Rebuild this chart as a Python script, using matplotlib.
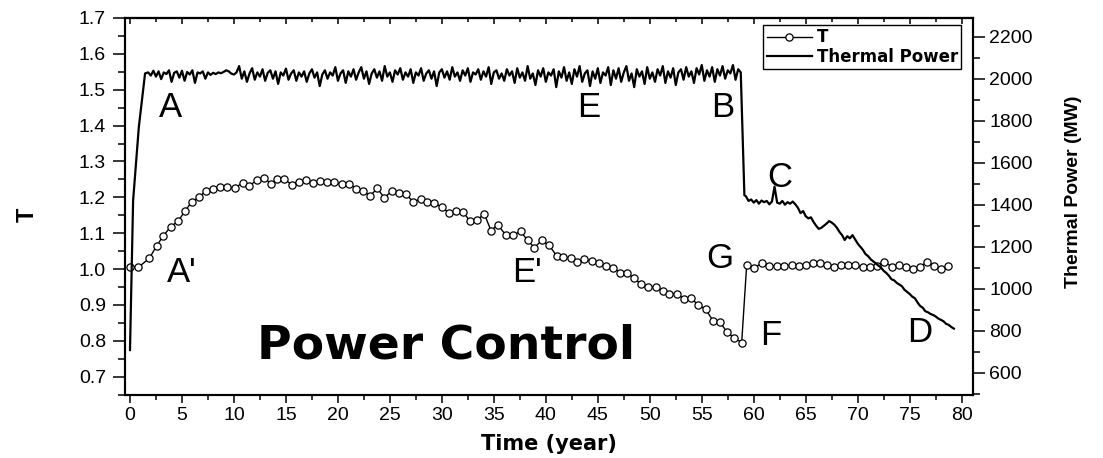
import numpy as np
import matplotlib
matplotlib.use('Agg')
import matplotlib.pyplot as plt
from matplotlib.ticker import MultipleLocator, FormatStrFormatter

plt.rcParams['font.family'] = ['Liberation Sans', 'DejaVu Sans']

# ---------------- data: T (circles, left axis) ----------------
t_time = [0.0, 0.80, 1.86, 2.57, 3.21, 3.91, 4.65, 5.29, 5.93, 6.67, 7.31, 8.02, 8.66, 9.36,
          10.10, 10.84, 11.48, 12.18, 12.89, 13.56, 14.17, 14.85, 15.55, 16.26, 16.93, 17.64,
          18.28, 18.98, 19.65, 20.36, 21.07, 21.74, 22.44, 23.09, 23.79, 24.46, 25.17, 25.88,
          26.55, 27.25, 27.96, 28.60, 29.27, 29.98, 30.68, 31.36, 32.06, 32.71, 33.41, 34.08,
          34.73, 35.37,
          36.17, 36.87, 37.58, 38.25, 38.90, 39.60, 40.30, 41.04, 41.68, 42.39, 43.03, 43.67,
          44.41, 45.12, 45.76, 46.43, 47.14, 47.78, 48.48, 49.15, 49.86, 50.57, 51.24, 51.88,
          52.58, 53.29, 53.96, 54.67, 55.37, 56.10, 56.74, 57.38, 58.09, 58.84,
          59.32, 60.06, 60.76, 61.50, 62.20, 62.94, 63.65, 64.35, 65.03, 65.73, 66.37, 67.02,
          67.75, 68.39, 69.10, 69.74, 70.48, 71.18, 71.83, 72.56, 73.27, 73.97, 74.65, 75.29,
          75.99, 76.70, 77.37, 78.01, 78.72]
t_vals = [1.007, 1.005, 1.030, 1.065, 1.093, 1.118, 1.134, 1.162, 1.187, 1.201, 1.219, 1.224,
          1.230, 1.228, 1.227, 1.240, 1.233, 1.247, 1.254, 1.238, 1.251, 1.251, 1.235, 1.244,
          1.247, 1.241, 1.246, 1.244, 1.242, 1.236, 1.238, 1.224, 1.218, 1.204, 1.225, 1.199,
          1.217, 1.213, 1.209, 1.187, 1.196, 1.187, 1.184, 1.173, 1.157, 1.162, 1.158, 1.134,
          1.137, 1.154, 1.107, 1.124,
          1.094, 1.095, 1.105, 1.080, 1.060, 1.080, 1.067, 1.037, 1.035, 1.030, 1.019, 1.027,
          1.023, 1.018, 1.009, 1.004, 0.990, 0.990, 0.975, 0.958, 0.951, 0.949, 0.940, 0.931,
          0.931, 0.917, 0.919, 0.900, 0.888, 0.855, 0.853, 0.826, 0.809, 0.795,
          1.012, 1.002, 1.018, 1.009, 1.009, 1.009, 1.011, 1.009, 1.011, 1.016, 1.016, 1.012,
          1.005, 1.012, 1.012, 1.011, 1.005, 1.005, 1.009, 1.020, 1.007, 1.011, 1.007, 1.001,
          1.007, 1.020, 1.009, 1.000, 1.009]

# ---------------- data: Thermal power (line, right axis, MW) ----------------
ramp_time = [0.0, 0.3, 0.85, 1.45]
ramp_vals = [708, 1420, 1770, 2025]

# plateau, sampled every 0.25 year from 1.75 to 58.75
plateau_vals = [
    2030, 2015, 2038, 2010, 2035, 1998, 2030, 2022, 2040, 1985, 2028, 2035, 2005, 2038, 1990, 2032, 2020, 2040, 1980, 2030,
    2025, 2035, 2000, 2030, 2018, 2028, 2022, 2030, 2026, 2032, 2040, 2035, 2024, 2020, 2030, 2060, 2000, 2035, 1985, 2025,
    2050, 1995, 2030, 2010, 2045, 1990, 2028, 2040, 2000, 2035, 1975, 2030, 2015, 2048, 1995, 2025, 2040, 1990, 2030, 2010,
    2035, 1985, 2025, 2045, 2005, 2030, 1965, 2020, 2040, 2000, 2030, 2015, 2055, 1990, 2025, 2040, 1980, 2035, 2010, 2045,
    1995, 2030, 2055, 2000, 2035, 1975, 2025, 2045, 2005, 2035, 1990, 2060, 2010, 2030, 1985, 2040, 2020, 2050, 1995, 2030,
    2010, 2045, 1980, 2030, 2015, 2050, 1990, 2025, 2040, 2000, 2035, 1965, 2030, 2045, 2005, 2035, 1995, 2055, 2010, 2030,
    1990, 2040, 2015, 2050, 1985, 2030, 2020, 2045, 1995, 2035, 2010, 2055, 1975, 2030, 2040, 2000, 2025, 1990, 2045, 2015,
    2035, 1980, 2050, 2005, 2030, 1990, 2060, 2000, 2025, 1970, 2040, 2010, 2050, 1985, 2030, 2015, 2045, 1960, 2035, 2005,
    2055, 1990, 2030, 1975, 2045, 2010, 2060, 1985, 2025, 2040, 1965, 2035, 2000, 2050, 1980, 2030, 2015, 2055, 1970, 2040,
    2000, 2050, 1985, 2030, 2060, 1990, 2025, 1960, 2045, 2010, 2035, 1975, 2055, 2000, 2030, 1985, 2045, 2015, 2060, 1980,
    2035, 2005, 2050, 1970, 2030, 2045, 1995, 2055, 2010, 2035, 1980, 2050, 2020, 2065, 1990, 2040, 2010, 2055, 1985, 2045,
    2015, 2060, 2000, 2040, 2025, 2065, 1995, 2045, 2030]
plateau_start, plateau_end = 1.75, 58.75

drop_time = [59.1]
drop_vals = [1445]

# power-reduction phase, sampled every 0.25 year from 59.25 to 79.25
decline_vals = [
    1440, 1418, 1425, 1410, 1422, 1405, 1420, 1412, 1418, 1402, 1415, 1486, 1410, 1405, 1418, 1400, 1412, 1405, 1415, 1402,
    1385, 1360, 1370, 1345, 1335, 1340, 1318, 1300, 1285, 1290, 1300, 1310, 1322, 1315, 1305, 1290, 1270, 1255, 1232, 1250,
    1240, 1255, 1235, 1215, 1200, 1185, 1165, 1155, 1140, 1130, 1120, 1110, 1100, 1085, 1075, 1062, 1045, 1040, 1028, 1020,
    1012, 995, 985, 975, 962, 955, 935, 918, 910, 893, 888, 880, 875, 868, 858, 852, 845, 833, 828, 818, 810]
decline_start, decline_end = 59.25, 79.25

p_time = np.concatenate([ramp_time,
                         np.linspace(plateau_start, plateau_end, len(plateau_vals)),
                         drop_time,
                         np.linspace(decline_start, decline_end, len(decline_vals))])
p_vals = np.concatenate([ramp_vals, plateau_vals, drop_vals, decline_vals])

# annotations: (label, x, y) in data coords of the T axis
letters = [('A', 3.94, 1.425), ('E', 44.15, 1.425), ('B', 57.0, 1.425), ('C', 62.48, 1.229),
           ("A'", 4.97, 0.965), ("E'", 38.16, 0.965), ('G', 56.75, 1.0025),
           ('F', 61.64, 0.788), ('D', 75.99, 0.798)]

# ---------------- figure ----------------
W, H = 1103, 458
fig = plt.figure(figsize=(W / 100, H / 100), dpi=100)
ax1 = fig.add_axes([125 / W, 1 - 395 / H, 848 / W, 377 / H])
ax2 = ax1.twinx()

ln1, = ax1.plot(t_time, t_vals, '-o', color='black', lw=1.0, ms=5.2, mfc='white',
                mec='black', mew=0.9, label='T')
ln2, = ax2.plot(p_time, p_vals, color='black', lw=1.6, label='Thermal Power')

ax1.set_xlim(-0.48, 81.09)
ax1.set_ylim(0.649, 1.7)
ax2.set_ylim(494, 2289)

for ax in (ax1, ax2):
    for s in ax.spines.values():
        s.set_linewidth(1.5)

ax1.xaxis.set_major_locator(MultipleLocator(5))
ax1.xaxis.set_minor_locator(MultipleLocator(2.5))
ax1.yaxis.set_major_locator(MultipleLocator(0.1))
ax1.yaxis.set_minor_locator(MultipleLocator(0.05))
ax1.yaxis.set_major_formatter(FormatStrFormatter('%.1f'))
ax2.yaxis.set_major_locator(MultipleLocator(200))
ax2.yaxis.set_minor_locator(MultipleLocator(100))

ax1.tick_params(axis='x', which='major', direction='out', length=5.8, width=1.1, pad=3, labelsize=14)
ax1.tick_params(axis='x', which='minor', direction='out', length=3.6, width=1.1)
ax1.tick_params(axis='y', which='major', direction='out', length=8.6, width=1.1, pad=5, labelsize=14, right=False)
ax1.tick_params(axis='y', which='minor', direction='out', length=4.7, width=1.1, right=False)
ax2.tick_params(axis='y', which='major', direction='out', length=8.6, width=1.1, pad=3, labelsize=14)
ax2.tick_params(axis='y', which='minor', direction='out', length=4.7, width=1.1)

top = ax1.secondary_xaxis('top')
top.xaxis.set_major_locator(MultipleLocator(5))
top.xaxis.set_minor_locator(MultipleLocator(2.5))
top.tick_params(which='major', direction='in', length=4, width=1.1, labeltop=False)
top.tick_params(which='minor', direction='in', length=3, width=1.1, labeltop=False)
top.spines['top'].set_linewidth(1.5)

# axis labels
fig.text(549 / W, 1 - 444 / H, 'Time (year)', ha='center', va='center',
         fontsize=15, fontweight='bold', family='DejaVu Sans')
fig.text(27.5 / W, 1 - 215 / H, 'T', rotation=90, ha='center', va='center',
         fontsize=17, fontweight='bold')
fig.text(1073 / W, 1 - 192 / H, 'Thermal Power (MW)', rotation=90, ha='center', va='center',
         fontsize=14, fontweight='bold')

# annotations
for lab, x, y in letters:
    ax1.text(x, y, lab, ha='center', va='baseline', fontsize=25, zorder=5)
ax1.text(30.4, 0.752, 'Power Control', ha='center', va='baseline', fontsize=34,
         fontweight='bold', family='DejaVu Sans', zorder=5)

leg = ax2.legend([ln1, ln2], ['T', 'Thermal Power'], loc='upper right',
                 bbox_to_anchor=(0.986, 0.981), borderaxespad=0, frameon=True,
                 fancybox=False, edgecolor='black', framealpha=1,
                 prop={'family': 'DejaVu Sans', 'weight': 'bold', 'size': 12},
                 handlelength=2.7, handletextpad=0.3, labelspacing=0.1, borderpad=0.2)
leg.get_frame().set_linewidth(1.0)

fig.savefig('out.png', dpi=100)
